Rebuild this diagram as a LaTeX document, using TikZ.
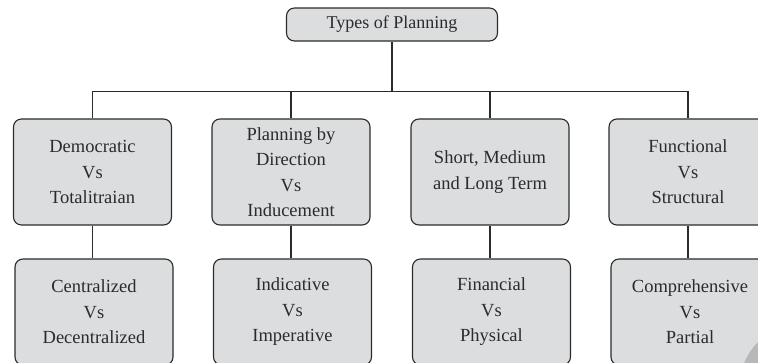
\documentclass[tikz,border=0pt]{standalone}
\usepackage{fontspec}
\setmainfont{Liberation Serif}
\usetikzlibrary{positioning}

\definecolor{boxgray}{HTML}{DCDDDF}
\definecolor{inkgray}{HTML}{2B2B2B}

\tikzset{
  planbox/.style = {draw = inkgray, line width = 1.1pt, fill = boxgray,
    rounded corners = 8pt, minimum width = 158pt, minimum height = 106pt,
    inner sep = 0pt, align = center, text = inkgray,
    font = \fontsize{18.5}{25.5}\selectfont},
  headbox/.style = {planbox, minimum width = 211pt, minimum height = 33pt,
    font = \fontsize{18}{25}\selectfont},
  link/.style = {draw = inkgray, line width = 1.1pt}
}

\begin{document}
\begin{tikzpicture}[x = 1pt, y = -1pt]
			\clip (0,0) rectangle (758,362);
			\fill[white] (0,0) rectangle (758,362);

			% root of the chart
			\node[headbox] (types) at (392,24.5) {Types of Planning};

			% first row
			\node[planbox] (demo) at (92.5,172) {Democratic\\Vs\\Totalitraian};
			\node[planbox] (dir)  at (291,172) {Planning by\\Direction\\Vs\\Inducement};
			\node[planbox] (term) at (490,172) {Short, Medium\\and Long Term};
			\node[planbox] (func) at (688,172) {Functional\\Vs\\Structural};

			% second row
			\node[planbox] (cent) at (94,312) {Centralized\\Vs\\Decentralized};
			\node[planbox] (ind)  at (292.5,312) {Indicative\\Vs\\Imperative};
			\node[planbox] (fin)  at (491.5,312) {Financial\\Vs\\Physical};
			\node[planbox] (comp) at (690,312) {Comprehensive\\Vs\\Partial};

			% branching lines
			\draw[link] (types.south) -- ++(0,49.5) coordinate (hub);
			\foreach \top/\low in {demo/cent, dir/ind, term/fin, func/comp} {
				\draw[link] (\top.north) |- (hub);
				\draw[link] (\top.south) -- (\top.south |- \low.north);
			}

			% corner badge
			\fill[gray!40!boxgray] (800,385) circle[radius = 60pt];
		\end{tikzpicture}
\end{document}
